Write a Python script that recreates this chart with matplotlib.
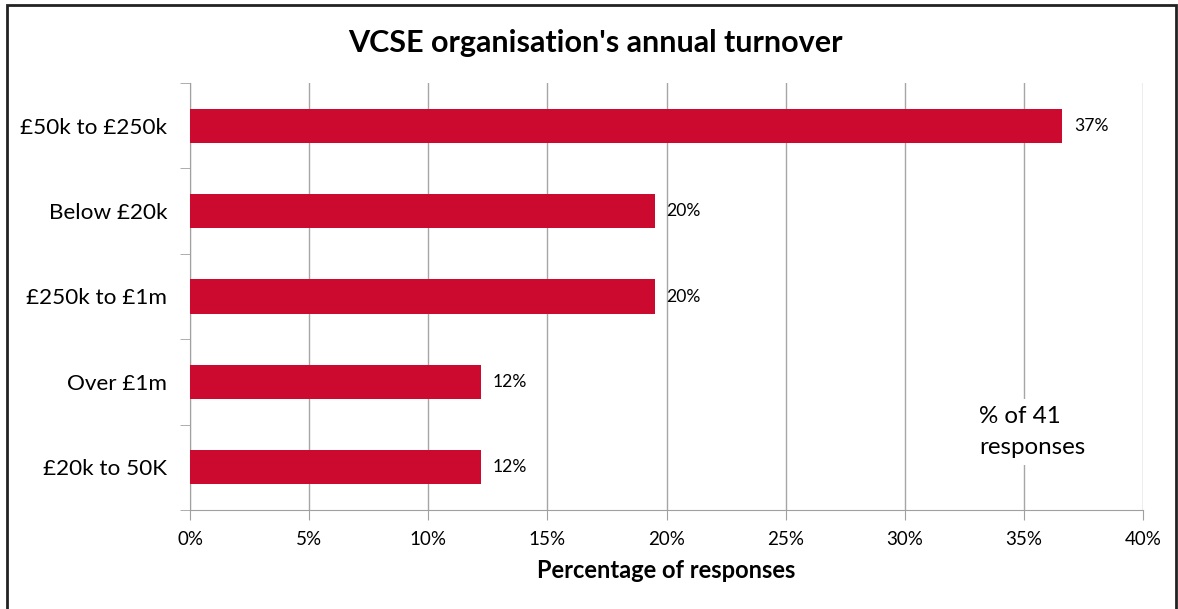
import matplotlib
matplotlib.use("Agg")
from matplotlib import pyplot as plt
from matplotlib.ticker import FixedLocator

plt.rcParams['font.family'] = ['Lato', 'DejaVu Sans']

categories = ['£50k to £250k', 'Below £20k', '£250k to £1m', 'Over £1m', '£20k to 50K']
values = [36.6, 19.5, 19.5, 12.2, 12.2]
labels = ['37%', '20%', '20%', '12%', '12%']
xticks = [0, 5, 10, 15, 20, 25, 30, 35, 40]

fig = plt.figure(figsize=(11.78, 6.09), dpi=100)
ax = fig.add_axes([190/1178, 1-510/609, (1143-190)/1178, (510-83)/609])

pos = list(range(len(categories)))[::-1]
ax.barh(pos, values, height=0.4, color='#CC0A2F', zorder=3)

for p, v, l in zip(pos, values, labels):
    ax.text(v + 0.5, p, l, va='center', ha='left', fontsize=12.6, color='black')

ax.set_xlim(0, 40)
ax.set_ylim(-0.5, 4.5)
ax.set_xticks(xticks)
ax.set_xticklabels([str(t) + '%' for t in xticks], fontsize=13.5)
ax.set_yticks(pos)
ax.set_yticklabels(categories, fontsize=16.2)
ax.yaxis.set_minor_locator(FixedLocator([-0.5, 0.5, 1.5, 2.5, 3.5, 4.5]))
ax.tick_params(axis='y', which='major', length=0, pad=16.5)
ax.tick_params(axis='y', which='minor', length=7, color='#A0A0A0')
ax.tick_params(axis='x', length=7, color='#A0A0A0', pad=8)

ax.xaxis.grid(True, color='#A6A6A6', linewidth=1)
for s in ['top', 'right']:
    ax.spines[s].set_visible(False)
for s in ['left', 'bottom']:
    ax.spines[s].set_color('#A0A0A0')

ax.set_xlabel('Percentage of responses', fontsize=17, fontweight='bold', labelpad=8)
fig.text(595/1178, 1-43/609, "VCSE organisation's annual turnover", ha='center', va='center',
         fontsize=22, fontweight='bold')

ax.text((979-190)/953, 0.183, '% of 41\nresponses', transform=ax.transAxes, ha='left', va='center',
        fontsize=17.4, linespacing=1.55, zorder=5,
        bbox=dict(facecolor='white', edgecolor='none', pad=5))

# outer frame
fig.patches.append(plt.Rectangle((7/1178, -0.1), (1176-7)/1178, 1.1 - 5/609, transform=fig.transFigure,
                                 fill=False, edgecolor='#222222', linewidth=2))

plt.savefig('out.png', dpi=100)
